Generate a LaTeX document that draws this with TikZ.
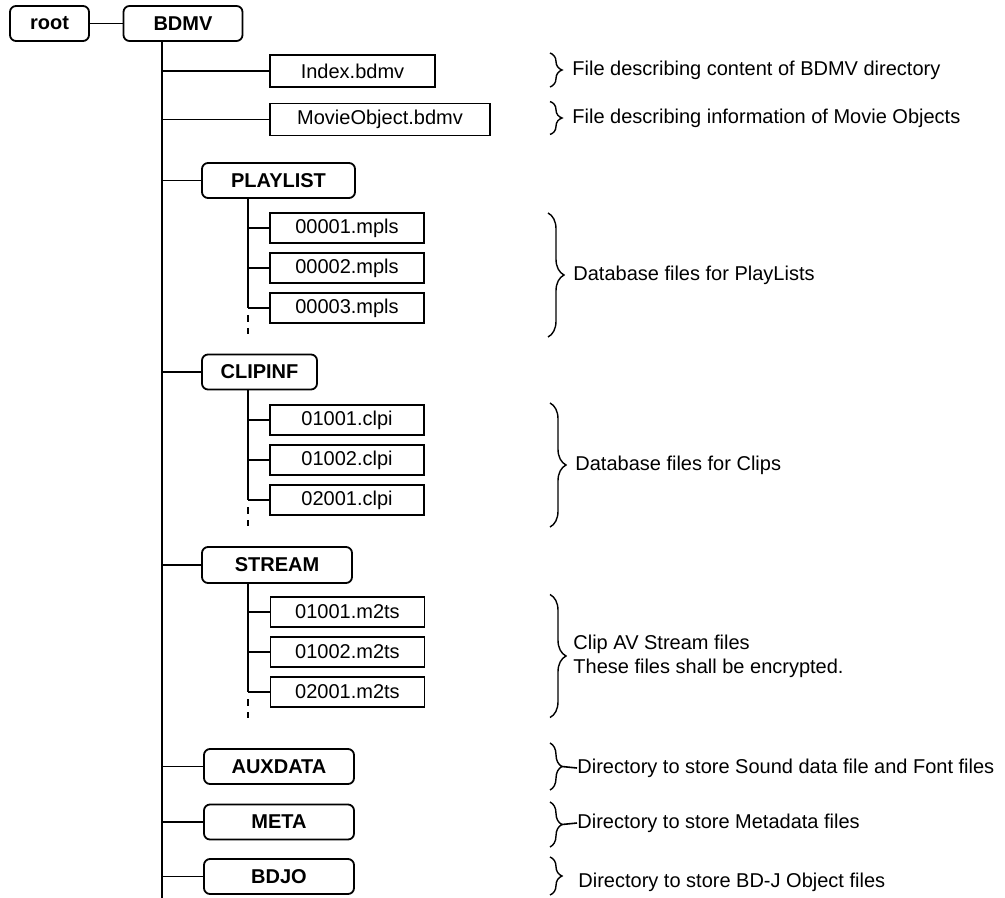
\documentclass[tikz,border=0pt]{standalone}
\usepackage{fontspec}
\setmainfont{Liberation Sans}
\usetikzlibrary{calc,decorations.pathreplacing}

\begin{document}
\begin{tikzpicture}[x=0.5pt,y=-0.5pt,node distance=20pt,font=\fontsize{10pt}{12pt}\selectfont]
\tikzstyle{dirbox} = [rectangle, rounded corners=3pt, draw=black, line width=0.9pt, minimum height=17.5pt, inner sep=0pt, font=\fontsize{10pt}{12pt}\selectfont\bfseries]
\tikzstyle{filebox} = [rectangle, draw=black, line width=0.9pt, minimum width=77pt, minimum height=15pt, inner sep=0pt]
\tikzstyle{branch} = [line width=0.8pt]
\tikzstyle{more} = [line width=0.8pt, dash pattern=on 3.5pt off 3pt]
\tikzstyle{curly} = [line width=0.7pt, decorate, decoration={brace, amplitude=6pt}]
\tikzstyle{note} = [anchor=west, inner sep=0pt, align=left]

\useasboundingbox (0,0) rectangle (1005,898);

\node (root) [dirbox, minimum width=39.5pt] at (49.5,23.5) {root};
\node (bdmv) [dirbox, minimum width=59.5pt] at (183,23.5) {BDMV};
\coordinate (trunkend) at (162,898);

\node (index) [filebox, minimum width=82.5pt, minimum height=16pt] at (352.5,71) {Index.bdmv};
\node (movie) [filebox, minimum width=110pt, minimum height=16pt] at (380,119.5) {MovieObject.bdmv};

\node (playlist) [dirbox, minimum width=76.5pt] at (278.5,180.5) {PLAYLIST};
\node (pl1) [filebox] at (347,228) {00001.mpls};
\node (pl2) [filebox, below of=pl1] {00002.mpls};
\node (pl3) [filebox, below of=pl2] {00003.mpls};
\coordinate (plend) at (248,308);
\coordinate (plmore) at (248,315);
\coordinate (pldash) at (248,334);

\node (clipinf) [dirbox, minimum width=57.5pt] at (259.5,372) {CLIPINF};
\node (cl1) [filebox] at (347,420) {01001.clpi};
\node (cl2) [filebox, below of=cl1] {01002.clpi};
\node (cl3) [filebox, below of=cl2] {02001.clpi};
\coordinate (clend) at (248,500);
\coordinate (clmore) at (248,507);
\coordinate (cldash) at (248,526);

\node (stream) [dirbox, minimum width=75pt, minimum height=18pt] at (277,565) {STREAM};
\node (st1) [filebox] at (347.5,612) {01001.m2ts};
\node (st2) [filebox, below of=st1] {01002.m2ts};
\node (st3) [filebox, below of=st2] {02001.m2ts};
\coordinate (stend) at (248,692);
\coordinate (stmore) at (248,699);
\coordinate (stdash) at (248,718);

\node (auxdata) [dirbox, minimum width=75pt] at (279,766.5) {AUXDATA};
\node (meta) [dirbox, minimum width=75pt, below of=auxdata, yshift=-7.75pt] {META};
\node (bdjo) [dirbox, minimum width=75pt, below of=meta, yshift=-7.25pt] {BDJO};

\node (idxnote) [note] at (572,70) {File describing content of BDMV directory};
\node (movnote) [note] at (572,118) {File describing information of Movie Objects};
\node (plnote) [note] at (573,275) {Database files for PlayLists};
\node (clnote) [note] at (575,465) {Database files for Clips};
\node (stnote) [note] at (573,656) {Clip AV Stream files\\These files shall be encrypted.};
\node (auxnote) [note] at (577,768) {Directory to store Sound data file and Font files};
\node (metanote) [note] at (577,823) {Directory to store Metadata files};
\node (bdjonote) [note] at (578,882) {Directory to store BD-J Object files};

\draw [branch] (root) -- (bdmv);
\draw [branch] (bdmv.south -| trunkend) -- (trunkend);
\draw [branch] (index.west -| trunkend) -- (index);
\draw [branch] (movie.west -| trunkend) -- (movie);
\draw [branch] (playlist.west -| trunkend) -- (playlist);
\draw [branch] (clipinf.west -| trunkend) -- (clipinf);
\draw [branch] (stream.west -| trunkend) -- (stream);
\draw [branch] (auxdata.west -| trunkend) -- (auxdata);
\draw [branch] (meta.west -| trunkend) -- (meta);
\draw [branch] (bdjo.west -| trunkend) -- (bdjo);

\draw [branch] (playlist.south -| plend) -- (plend);
\draw [more] (plmore) -- (pldash);
\draw [branch] (pl1.west -| plend) -- (pl1);
\draw [branch] (pl2.west -| plend) -- (pl2);
\draw [branch] (pl3.west -| plend) -- (pl3);

\draw [branch] (clipinf.south -| clend) -- (clend);
\draw [more] (clmore) -- (cldash);
\draw [branch] (cl1.west -| clend) -- (cl1);
\draw [branch] (cl2.west -| clend) -- (cl2);
\draw [branch] (cl3.west -| clend) -- (cl3);

\draw [branch] (stream.south -| stend) -- (stend);
\draw [more] (stmore) -- (stdash);
\draw [branch] (st1.west -| stend) -- (st1);
\draw [branch] (st2.west -| stend) -- (st2);
\draw [branch] (st3.west -| stend) -- (st3);

\draw [curly] ($(idxnote.west)+(-22,-17)$) -- ($(idxnote.west)+(-22,17)$);
\draw [curly] ($(movnote.west)+(-22,-16.5)$) -- ($(movnote.west)+(-22,16.5)$);
\draw [curly, decoration={amplitude=8pt}] ($(plnote.west)+(-25,-62)$) -- ($(plnote.west)+(-25,62)$);
\draw [curly, decoration={amplitude=8pt}] ($(clnote.west)+(-25,-62)$) -- ($(clnote.west)+(-25,62)$);
\draw [curly, decoration={amplitude=8pt}] ($(stnote.west)+(-23,-61.5)$) -- ($(stnote.west)+(-23,61.5)$);
\draw [curly] ($(auxnote.west)+(-27,-25)$) -- ($(auxnote.west)+(-27,22)$);
\draw [branch] ($(auxnote.west)+(-15,-1.5)$) -- (auxnote.west);
\draw [curly] ($(metanote.west)+(-27,-21)$) -- ($(metanote.west)+(-27,24)$);
\draw [branch] ($(metanote.west)+(-15,1.5)$) -- (metanote.west);
\draw [curly] ($(bdjonote.west)+(-28,-25)$) -- ($(bdjonote.west)+(-28,13)$);

\end{tikzpicture}
\end{document}
